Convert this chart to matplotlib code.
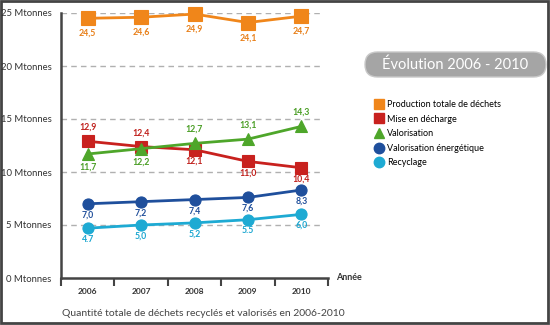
import matplotlib
matplotlib.use("Agg")
import matplotlib.pyplot as plt
from matplotlib.lines import Line2D
from matplotlib.patches import FancyBboxPatch, Rectangle

plt.rcParams["font.family"] = ["Lato", "DejaVu Sans"]

years = ["2006", "2007", "2008", "2009", "2010"]
production = [24.5, 24.6, 24.9, 24.1, 24.7]
decharge = [12.9, 12.4, 12.1, 11.0, 10.4]
valorisation = [11.7, 12.2, 12.7, 13.1, 14.3]
energetique = [7.0, 7.2, 7.4, 7.6, 8.3]
recyclage = [4.7, 5.0, 5.2, 5.5, 6.0]
# text of the value labels as printed (mixed decimal marks as in the source)
lab_recyclage = ["4.7", "5,0", "5,2", "5.5", "6,0"]
yticks = [0, 5, 10, 15, 20, 25]
names = ["Production totale de déchets", "Mise en décharge", "Valorisation",
         "Valorisation énergétique", "Recyclage"]

fr = lambda v: f"{v:.1f}".replace(".", ",")

series = [
    # values, labels, line colour, text colour, marker, size, label side per point, (above, below) offsets
    (production, [fr(v) for v in production], "#f0861a", "#e8801a", "s", 9.5, [-1] * 5, (10, -11)),
    (decharge, [fr(v) for v in decharge], "#c8211e", "#c0201c", "s", 9, [1, 1, -1, -1, -1], (10, -8.5)),
    (valorisation, [fr(v) for v in valorisation], "#4ea62a", "#4a9e25", "^", 9, [-1, -1, 1, 1, 1], (10, -9.5)),
    (energetique, [fr(v) for v in energetique], "#1f4f9c", "#1f4e9a", "o", 8, [-1] * 5, (8, -8)),
    (recyclage, lab_recyclage, "#1eaad3", "#1aa6d0", "o", 8, [-1] * 5, (8, -8)),
]

fig = plt.figure(figsize=(5.5, 3.25), dpi=100)

# pixel overlay for frame, title box, caption
bg = fig.add_axes([0, 0, 1, 1], zorder=-1)
bg.set_xlim(0, 550); bg.set_ylim(325, 0); bg.axis("off")
bg.add_patch(Rectangle((1, 1), 547, 322, fill=False, ec="#444444", lw=2))
bg.add_patch(FancyBboxPatch((365, 52), 181, 25, boxstyle="round,pad=0,rounding_size=12.5",
                            fc="#a5a5a5", ec="#c8c8c8", lw=1))
bg.text(455.5, 65, "Évolution 2006 - 2010", ha="center", va="center", color="white", fontsize=10.5)
bg.text(62, 313, "Quantité totale de déchets recyclés et valorisés en 2006-2010",
        ha="left", va="center", color="#444444", fontsize=7.5)
bg.text(336, 278, "Année", ha="left", va="center", color="#333333", fontsize=6.5, fontweight="bold")

ax = fig.add_axes([61 / 550, 1 - 278 / 325, 267 / 550, 265 / 325])
ax.patch.set_alpha(0)
x = list(range(len(years)))
ax.set_xlim(-0.5, 4.5)
ax.set_ylim(0, 25)

for yv in yticks[1:]:
    ax.axhline(yv, xmax=0.98, color="#b0b0b0", ls=(0, (4, 3)), lw=1, zorder=0)

handles = []
for vals, labs, lc, tc, mk, ms, sides, offs in series:
    ax.plot(x, vals, color=lc, lw=2, marker=mk, ms=ms, mfc=lc, mec=lc, mew=0.8,
            clip_on=False, zorder=3)
    for xi, v, t, s in zip(x, vals, labs, sides):
        off = offs[0] if s > 0 else offs[1]
        ax.annotate(t, (xi, v), textcoords="offset points", xytext=(0, off),
                    ha="center", va="center", fontsize=6.3, fontweight="bold", color=tc)
    handles.append(Line2D([], [], ls="none", marker=mk, ms=7.5, color=lc))

for s in ("top", "right"):
    ax.spines[s].set_visible(False)
for s in ("left", "bottom"):
    ax.spines[s].set_color("#444444")
    ax.spines[s].set_linewidth(1.8)

ax.set_yticks(yticks)
ax.set_yticklabels([f"{v} Mtonnes" for v in yticks], fontsize=6.8, color="#333333")
ax.tick_params(axis="y", length=0, pad=7)
ax.set_xticks([i - 0.5 for i in range(len(years) + 1)])
ax.set_xticklabels([])
ax.tick_params(axis="x", which="major", direction="out", length=6, width=1.5, color="#444444")
ax.set_xticks(x, minor=True)
ax.set_xticklabels(years, minor=True, fontsize=6, fontweight="bold", color="#333333")
ax.tick_params(axis="x", which="minor", length=0, pad=7)

fig.legend(handles, names, loc="upper left", bbox_to_anchor=(374 / 550, 1 - 100 / 325),
           frameon=False, fontsize=6.5, handlelength=1, handletextpad=0.4,
           labelspacing=0.62, borderaxespad=0, borderpad=0)

fig.savefig("out.png", dpi=100)
